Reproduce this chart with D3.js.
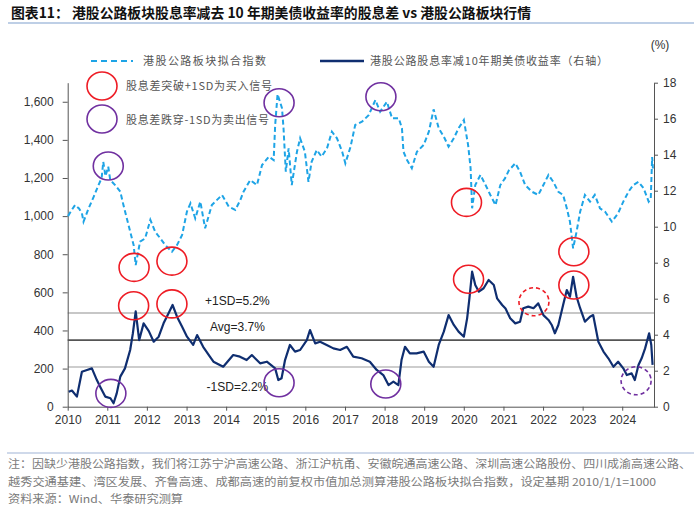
<!DOCTYPE html>
<html>
<head>
<meta charset="utf-8">
<script src="https://cdn.jsdelivr.net/npm/d3@7"></script>
<style>
body { margin: 0; background: #fff; }
svg { display: block; font-family: "Liberation Sans", Arial, sans-serif; }
.cjk { font-family: "Noto Sans CJK SC", "Liberation Sans", sans-serif; }
</style>
</head>
<body>
<svg id="chart"></svg>
<script>
var idxDates = ["2010-01-04","2010-02-05","2010-03-10","2010-04-15","2010-05-12","2010-05-27","2010-07-13","2010-08-29","2010-10-12","2010-11-10",
  "2010-11-25","2010-12-15","2011-01-10","2011-01-28","2011-03-14","2011-05-01","2011-05-30","2011-07-16","2011-09-01","2011-09-20",
  "2011-10-30","2011-12-16","2012-02-02","2012-03-18","2012-05-04","2012-06-18","2012-08-19","2012-10-05","2012-11-21","2013-01-04",
  "2013-02-06","2013-03-22","2013-05-08","2013-06-21","2013-08-22","2013-11-24","2014-01-26","2014-03-26","2014-05-12","2014-06-10",
  "2014-08-11","2014-10-12","2014-11-28","2015-01-30","2015-03-15","2015-03-29","2015-04-20","2015-05-31","2015-06-14","2015-07-05",
  "2015-07-31","2015-08-29","2015-10-16","2015-11-14","2015-12-28","2016-01-30","2016-02-28","2016-04-16","2016-05-30","2016-07-19",
  "2016-09-02","2016-10-19","2016-12-06","2017-01-04","2017-02-21","2017-04-05","2017-06-06","2017-08-07","2017-10-08","2017-11-21",
  "2018-01-22","2018-03-11","2018-05-12","2018-06-10","2018-06-24","2018-07-27","2018-09-09","2018-10-26","2018-12-27","2019-02-13",
  "2019-03-29","2019-05-15","2019-07-01","2019-08-14","2019-10-01","2019-11-14","2020-01-02","2020-02-10","2020-03-04","2020-03-18",
  "2020-04-16","2020-06-03","2020-07-20","2020-09-02","2020-10-20","2020-12-03","2021-01-15","2021-02-20","2021-04-20","2021-06-03",
  "2021-07-20","2021-09-20","2021-11-18","2022-01-04","2022-02-20","2022-04-05","2022-05-22","2022-07-05","2022-08-08","2022-09-06",
  "2022-10-05","2022-11-06","2022-12-09","2023-01-22","2023-03-10","2023-04-23","2023-06-10","2023-07-27","2023-09-27","2023-11-24",
  "2024-01-11","2024-02-28","2024-04-12","2024-05-30","2024-07-16","2024-09-01","2024-09-20","2024-10-03","2024-10-10"];
var idxValues = [1000,1030,1058,1040,1015,971,1041,1102,1163,1200,
  1285,1210,1259,1190,1163,1128,1058,953,848,743,
  866,883,980,918,883,848,813,848,901,1023,
  1067,988,1076,936,1058,1111,1049,1032,1085,1128,
  1189,1163,1268,1312,1294,1478,1640,1566,1461,1233,
  1356,1163,1338,1408,1338,1180,1285,1347,1312,1356,
  1443,1408,1338,1277,1364,1478,1495,1530,1609,1548,
  1600,1513,1513,1461,1338,1294,1251,1338,1373,1443,
  1560,1461,1417,1364,1408,1461,1504,1373,1251,1041,
  1163,1216,1163,1111,1058,1163,1198,1240,1277,1233,
  1163,1128,1111,1163,1216,1180,1128,1111,1041,971,
  831,918,1023,1111,1076,1111,1041,1023,971,1015,
  1076,1128,1163,1180,1146,1076,1090,1310,1250];

var sprDates = ["2010-01-10","2010-02-09","2010-03-27","2010-05-12","2010-06-28","2010-08-12","2010-09-27","2010-10-27","2010-12-13","2011-01-30",
  "2011-02-28","2011-03-29","2011-05-01","2011-06-13","2011-07-31","2011-08-25","2011-09-20","2011-10-22","2011-12-02","2012-01-19",
  "2012-03-04","2012-04-19","2012-06-03","2012-07-19","2012-08-25","2012-10-05","2012-11-21","2013-01-05","2013-03-03","2013-04-08",
  "2013-06-03","2013-08-04","2013-09-06","2013-12-05","2014-03-07","2014-05-08","2014-07-09","2014-08-26","2014-11-10","2015-01-11",
  "2015-03-29","2015-04-27","2015-05-27","2015-06-28","2015-08-12","2015-09-28","2015-11-14","2016-01-15","2016-02-13","2016-04-01",
  "2016-05-16","2016-07-16","2016-09-16","2016-11-17","2017-01-18","2017-03-18","2017-06-03","2017-08-18","2017-10-20","2017-12-20",
  "2018-02-06","2018-03-23","2018-05-08","2018-06-06","2018-07-08","2018-08-22","2018-10-23","2018-12-27","2019-02-13","2019-03-29",
  "2019-05-15","2019-07-01","2019-08-14","2019-10-01","2019-11-14","2020-01-02","2020-02-01","2020-02-22","2020-03-18","2020-04-16",
  "2020-05-19","2020-07-02","2020-08-17","2020-10-04","2020-11-03","2020-12-20","2021-01-20","2021-03-04","2021-04-20","2021-06-03",
  "2021-07-02","2021-08-18","2021-10-05","2021-11-18","2022-01-04","2022-02-20","2022-03-22","2022-04-20","2022-05-22","2022-07-05",
  "2022-08-08","2022-09-06","2022-10-05","2022-11-06","2022-12-09","2023-01-22","2023-03-10","2023-04-08","2023-05-26","2023-07-12",
  "2023-08-26","2023-10-12","2023-11-24","2024-01-11","2024-02-12","2024-03-28","2024-04-26","2024-05-30","2024-06-28","2024-07-30",
  "2024-09-05","2024-09-25","2024-10-07"];
var sprValues = [0.83,0.90,0.56,1.94,2.04,2.13,1.48,1.11,0.56,0.47,
  0.19,0.74,1.67,2.13,3.15,4.08,5.30,3.70,4.63,4.20,
  3.61,3.89,4.63,5.19,5.65,5.00,4.44,3.89,3.43,3.98,
  3.33,2.78,2.50,2.22,2.87,2.78,2.59,2.87,2.41,2.50,
  2.13,1.48,1.58,2.59,3.43,3.06,3.15,3.70,4.26,3.52,
  3.61,3.43,3.24,3.15,3.33,2.78,2.69,2.50,2.04,1.76,
  1.20,1.39,1.20,2.59,3.33,2.96,2.96,3.06,2.50,2.22,
  3.43,4.17,5.09,4.54,4.17,3.89,4.91,6.02,7.50,6.76,
  6.39,6.58,7.04,6.76,6.02,5.65,5.45,4.91,4.63,4.72,
  5.47,5.56,5.47,5.74,5.09,4.82,4.54,4.08,4.54,5.65,
  6.48,6.11,7.22,6.11,5.47,4.72,5.00,5.09,3.61,3.06,
  2.69,2.22,2.50,2.13,1.76,1.85,1.48,2.32,2.69,3.24,
  4.08,3.43,2.32];

var leftTicks = [0,200,400,600,800,1000,1200,1400,1600];
var rightTicks = [0,2,4,6,8,10,12,14,16,18];
var refLevels = [5.2, 3.7, 2.2];
var refLabels = ["+1SD=5.2%", "Avg=3.7%", "-1SD=2.2%"];

// signal circles: date, value, axis, kind (buy = red, sell = purple), dashed
var signals = [
  {d:"2011-01-10", v:1263, axis:"L", kind:"sell", dash:false},
  {d:"2011-09-05", v:731, axis:"L", kind:"buy", dash:false},
  {d:"2012-08-19", v:764, axis:"L", kind:"buy", dash:false},
  {d:"2011-09-01", v:5.61, axis:"R", kind:"buy", dash:false},
  {d:"2012-08-19", v:5.71, axis:"R", kind:"buy", dash:false},
  {d:"2011-02-03", v:0.74, axis:"R", kind:"sell", dash:false},
  {d:"2015-05-04", v:1595, axis:"L", kind:"sell", dash:false},
  {d:"2015-05-04", v:1.33, axis:"R", kind:"sell", dash:false},
  {d:"2017-11-28", v:1626, axis:"L", kind:"sell", dash:false},
  {d:"2018-01-12", v:1.26, axis:"R", kind:"sell", dash:false},
  {d:"2020-01-26", v:1072, axis:"L", kind:"buy", dash:false},
  {d:"2020-02-14", v:7.08, axis:"R", kind:"buy", dash:false},
  {d:"2021-10-09", v:5.83, axis:"R", kind:"buy", dash:true},
  {d:"2022-10-12", v:813, axis:"L", kind:"buy", dash:false},
  {d:"2022-10-12", v:6.76, axis:"R", kind:"buy", dash:false},
  {d:"2024-05-08", v:1.44, axis:"R", kind:"sell", dash:true}
];

var parse = d3.timeParse("%Y-%m-%d");
var width = 700, height = 510;
var blue = "#1ea4e6", navy = "#0f2e70", red = "#ee1c25", purple = "#7030a0";

var svg = d3.select("#chart").attr("width", width).attr("height", height);
svg.append("rect").attr("width", width).attr("height", height).attr("fill", "#fff");

var x = d3.scaleTime().domain([parse("2010-01-01"), parse("2024-10-20")]).range([67.7, 654]);
var yL = d3.scaleLinear().domain([0, 1700]).range([406.7, 82.7]);
var yR = d3.scaleLinear().domain([0, 18]).range([406.7, 82.7]);

// title
svg.append("text").attr("class", "cjk").attr("x", 11).attr("y", 18)
  .attr("font-size", 14).attr("font-weight", "bold").attr("fill", "#111")
  .attr("textLength", 520).attr("lengthAdjust", "spacingAndGlyphs")
  .text("图表11：  港股公路板块股息率减去 10 年期美债收益率的股息差 vs 港股公路板块行情");
svg.append("line").attr("x1", 8).attr("x2", 694).attr("y1", 23).attr("y2", 23)
  .attr("stroke", "#7f9fce").attr("stroke-width", 1.2);

// reference lines
var refColors = ["#b4b4b4", "#555", "#bdbdbd"];
refLevels.forEach(function(v, i) {
  svg.append("line").attr("x1", x.range()[0]).attr("x2", x.range()[1])
    .attr("y1", yR(v)).attr("y2", yR(v))
    .attr("stroke", refColors[i]).attr("stroke-width", i == 1 ? 1.6 : 1.5);
});
var labelX = x(parse("2014-04-15"));
var labelDy = [-8, -9, 24];
refLevels.forEach(function(v, i) {
  svg.append("text").attr("x", labelX).attr("y", yR(v) + labelDy[i])
    .attr("text-anchor", "middle").attr("font-size", 12).attr("fill", "#222")
    .text(refLabels[i]);
});

// axes
var axL = svg.append("g").attr("transform", "translate(" + x.range()[0] + ",0)")
  .call(d3.axisLeft(yL).tickValues(leftTicks).tickFormat(d3.format(",")).tickSize(5).tickPadding(9).tickSizeOuter(0));
var axR = svg.append("g").attr("transform", "translate(" + x.range()[1] + ",0)")
  .call(d3.axisRight(yR).tickValues(rightTicks).tickSize(4).tickPadding(5).tickSizeOuter(0));
var axB = svg.append("g").attr("transform", "translate(0," + yL(0) + ")")
  .call(d3.axisBottom(x).ticks(d3.timeYear.every(1)).tickFormat(d3.timeFormat("%Y")).tickSize(4).tickPadding(5).tickSizeOuter(0));
[axL, axR, axB].forEach(function(g) {
  g.selectAll("path, line").attr("stroke", "#555");
  g.selectAll("text").attr("font-size", 12).attr("fill", "#333")
    .attr("font-family", "'Liberation Sans', Arial, sans-serif");
});

// lines
var idx = idxDates.map(function(d, i) { return [parse(d), idxValues[i]]; });
var spr = sprDates.map(function(d, i) { return [parse(d), sprValues[i]]; });

svg.append("path").datum(spr)
  .attr("d", d3.line().x(function(d) { return x(d[0]); }).y(function(d) { return yR(d[1]); }))
  .attr("fill", "none").attr("stroke", navy).attr("stroke-width", 2.2).attr("stroke-linejoin", "round");
svg.append("path").datum(idx)
  .attr("d", d3.line().x(function(d) { return x(d[0]); }).y(function(d) { return yL(d[1]); }))
  .attr("fill", "none").attr("stroke", blue).attr("stroke-width", 2).attr("stroke-dasharray", "5,3");

// signal circles
signals.forEach(function(s) {
  svg.append("ellipse")
    .attr("cx", x(parse(s.d)))
    .attr("cy", s.axis == "L" ? yL(s.v) : yR(s.v))
    .attr("rx", 15).attr("ry", 14)
    .attr("fill", "none").attr("stroke", s.kind == "buy" ? red : purple).attr("stroke-width", 1.6)
    .attr("stroke-dasharray", s.dash ? "4,3" : null);
});

// legend
svg.append("line").attr("x1", 91).attr("x2", 133).attr("y1", 61).attr("y2", 61)
  .attr("stroke", blue).attr("stroke-width", 2).attr("stroke-dasharray", "6,4");
svg.append("text").attr("class", "cjk").attr("x", 143).attr("y", 65).attr("font-size", 11).attr("fill", "#555")
  .attr("textLength", 123).attr("lengthAdjust", "spacing").text("港股公路板块拟合指数");
svg.append("line").attr("x1", 320).attr("x2", 364).attr("y1", 61).attr("y2", 61)
  .attr("stroke", navy).attr("stroke-width", 2.5);
svg.append("text").attr("class", "cjk").attr("x", 370).attr("y", 65).attr("font-size", 11).attr("fill", "#555")
  .attr("textLength", 238).attr("lengthAdjust", "spacing").text("港股公路股息率减10年期美债收益率（右轴）");
svg.append("ellipse").attr("cx", 102).attr("cy", 86).attr("rx", 15).attr("ry", 14)
  .attr("fill", "none").attr("stroke", red).attr("stroke-width", 1.6);
svg.append("text").attr("class", "cjk").attr("x", 126).attr("y", 90).attr("font-size", 11).attr("fill", "#555")
  .attr("textLength", 146).attr("lengthAdjust", "spacing").text("股息差突破+1SD为买入信号");
svg.append("ellipse").attr("cx", 102).attr("cy", 119).attr("rx", 15).attr("ry", 14)
  .attr("fill", "none").attr("stroke", purple).attr("stroke-width", 1.6);
svg.append("text").attr("class", "cjk").attr("x", 126).attr("y", 124).attr("font-size", 11).attr("fill", "#555")
  .attr("textLength", 143).attr("lengthAdjust", "spacing").text("股息差跌穿-1SD为卖出信号");
svg.append("text").attr("x", 660).attr("y", 49).attr("text-anchor", "middle")
  .attr("font-size", 12).attr("fill", "#333").text("(%)");

// footer
svg.append("line").attr("x1", 7).attr("x2", 694).attr("y1", 453).attr("y2", 453)
  .attr("stroke", "#9fb4d6").attr("stroke-width", 1.2);
var notes = [
  "注：因缺少港股公路指数，我们将江苏宁沪高速公路、浙江沪杭甬、安徽皖通高速公路、深圳高速公路股份、四川成渝高速公路、",
  "越秀交通基建、湾区发展、齐鲁高速、成都高速的前复权市值加总测算港股公路板块拟合指数，设定基期 2010/1/1=1000",
  "资料来源：Wind、华泰研究测算"
];
var noteLen = [683, 648, 175];
notes.forEach(function(t, i) {
  svg.append("text").attr("class", "cjk").attr("x", 8).attr("y", 468 + i * 17.5)
    .attr("font-size", 11).attr("fill", "#7a7a7a")
    .attr("textLength", noteLen[i]).attr("lengthAdjust", "spacingAndGlyphs").text(t);
});
</script>
</body>
</html>
